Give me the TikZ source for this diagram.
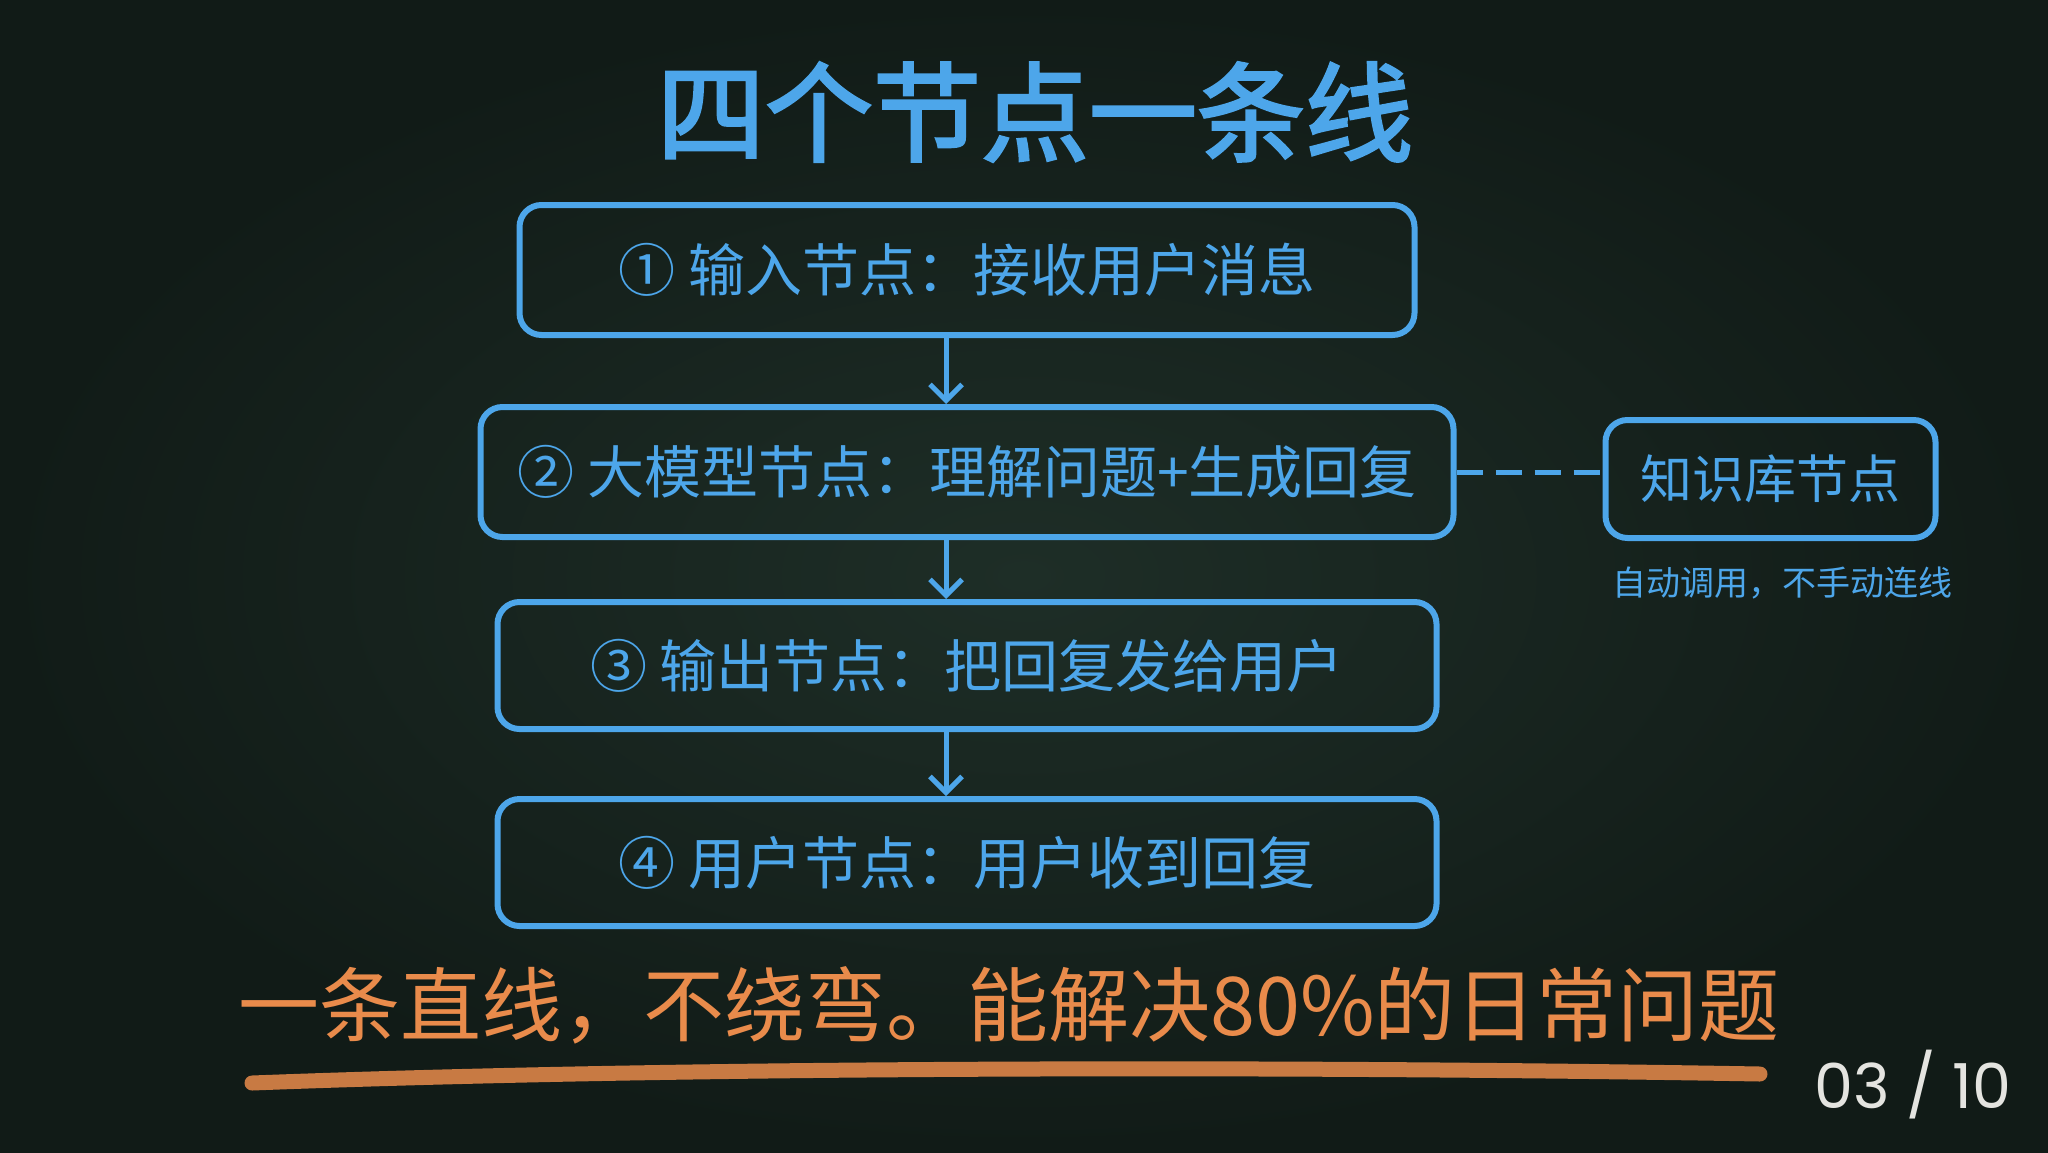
\documentclass[tikz,border=0pt]{standalone}
\usepackage{fontspec}
\setmainfont{Noto Sans CJK SC}
\newfontfamily\titlefont{Noto Sans CJK SC}[FakeBold=2.5]
\newfontfamily\pagefont{Poppins}
\usetikzlibrary{arrows.meta,positioning}
\definecolor{board}{HTML}{1E2E27}
\definecolor{boardedge}{HTML}{111B17}
\definecolor{chalkblue}{HTML}{4DA6EA}
\definecolor{chalkorange}{HTML}{E98B4B}
\definecolor{chalkwhite}{HTML}{E4E4E0}

\begin{document}
\begin{tikzpicture}[x=1pt,y=-1pt,inner sep=2pt,
  stage/.style={draw=chalkblue,line width=6pt,rounded corners=22pt,
    minimum height=130pt,text=chalkblue,font=\fontsize{57}{60}\selectfont},
  flow/.style={-{Straight Barb[length=16pt,width=32pt]},draw=chalkblue,line width=5pt}]
  \useasboundingbox (0,0) rectangle (2048,1152);
  % chalkboard
  \shade[inner color=board,outer color=boardedge] (0,0) rectangle (2048,1152);

  \node[text=chalkblue,font=\titlefont\fontsize{108}{112}\selectfont] (title) at (1035,112) {四个节点一条线};

  \node[stage,minimum width=895pt] (input) at (967,270) {①\hspace{14pt}输入节点：接收用户消息};
  \node[stage,minimum width=973pt] (llm) [below=66pt of input] {② 大模型节点：理解问题+生成回复};
  \node[stage,minimum width=939pt,minimum height=127pt] (output) [below=59pt of llm] {③ 输出节点：把回复发给用户};
  \node[stage,minimum width=939pt,minimum height=127pt] (user) [below=64pt of output] {④\hspace{14pt}用户节点：用户收到回复};

  \node[stage,minimum width=330pt,minimum height=118pt,font=\fontsize{52}{56}\selectfont]
    (kb) [right=146pt of llm,yshift=-7pt] {知识库节点};
  \node[text=chalkblue,font=\fontsize{34}{36}\selectfont] (autonote) [below=24pt of kb,xshift=12pt] {自动调用，不手动连线};

  \draw[flow] ([xshift=-21pt]input.south) -- ([xshift=-21pt]llm.north);
  \draw[flow] ([xshift=-21pt]llm.south) -- ([xshift=-21pt]output.north);
  \draw[flow] ([xshift=-21pt]output.south) -- ([xshift=-21pt]user.north);
  \draw[chalkblue,line width=5pt,dash pattern=on 26pt off 13pt] (llm.east) -- (llm.east -| kb.west);

  \node[text=chalkorange,font=\fontsize{81}{84}\selectfont] (motto) at (1009,1005) {一条直线，不绕弯。能解决80\%的日常问题};
  % chalk underline
  \draw[chalkorange,line width=15pt,line cap=round,opacity=.85]
    (252,1083) .. controls (700,1066) and (1300,1066) .. (1760,1074);

  \node[text=chalkwhite,font=\pagefont\fontsize{62}{64}\selectfont] (pagenum) at (1913,1085) {03 / 10};
\end{tikzpicture}
\end{document}
